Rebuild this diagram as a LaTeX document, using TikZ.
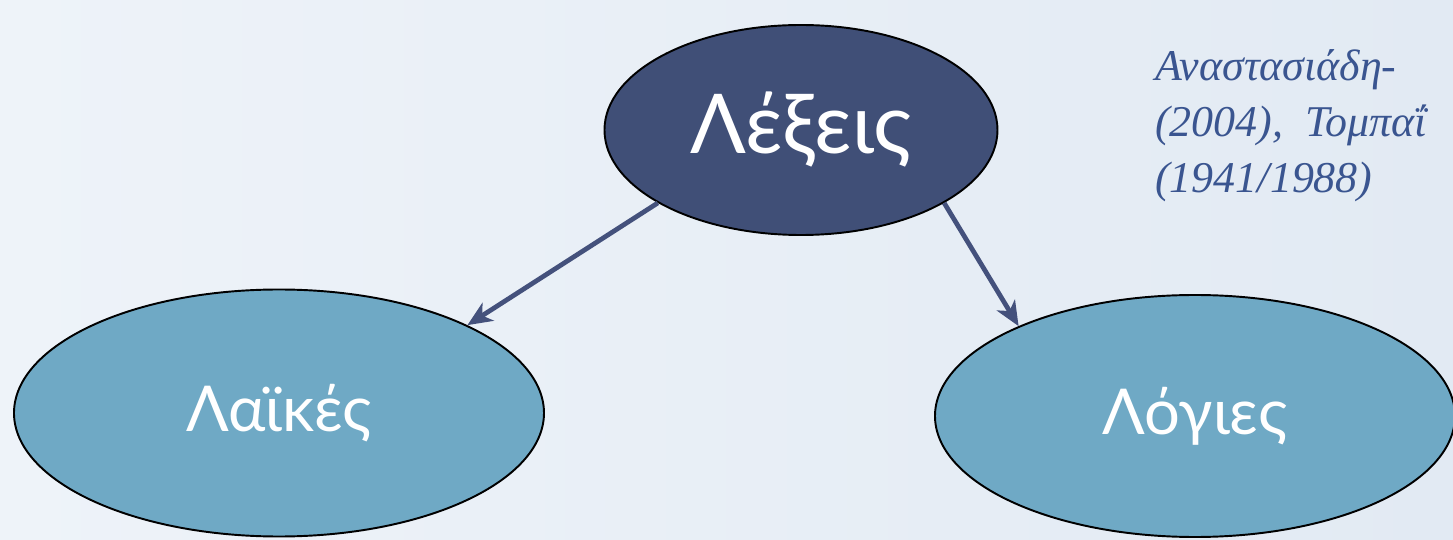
\documentclass[tikz,border=0pt]{standalone}
\usepackage{fontspec}
\newfontfamily\wordfont{Lato}
\newfontfamily\citefont{Liberation Serif}
\usetikzlibrary{shapes,arrows,arrows.meta}
\definecolor{navy}{HTML}{404F77}
\definecolor{sky}{HTML}{6FA9C5}
\definecolor{arrowblue}{HTML}{44517C}
\definecolor{citeblue}{HTML}{3A5590}
\definecolor{bgleft}{HTML}{EEF3F9}
\definecolor{bgright}{HTML}{E2EAF3}
\tikzstyle{word} = [ellipse, draw=black, line width=1.1pt, text=white]
\tikzstyle{arrow} = [line width=2.7pt, ->, >={Stealth[length=14pt, width=12pt, inset=4pt]}, draw=arrowblue]

\begin{document}
\begin{tikzpicture}
        \useasboundingbox (-16.02,2.6) rectangle (13.04,-8.2);
        \clip (-16.02,2.6) rectangle (13.04,-8.2);
        \shade [left color=bgleft, right color=bgright] (-16.02,2.6) rectangle (13.04,-8.2);

        \node (Lexeis) [word, minimum width=7.86cm, minimum height=4.2cm, fill=navy, font=\wordfont\fontsize{47}{50}\selectfont] {Λέξεις};
        \node (Laikes) [word, xshift=-10.44cm, yshift=-5.66cm, minimum width=10.6cm, minimum height=4.94cm, fill=sky, font=\wordfont\fontsize{36}{40}\selectfont] {Λαϊκές};
        \node (Logies) [word, xshift=7.88cm, yshift=-5.72cm, minimum width=10.4cm, minimum height=4.84cm, fill=sky, font=\wordfont\fontsize{36}{40}\selectfont] {Λόγιες};

        \node (Cite) [anchor=north west, inner sep=0pt, xshift=7.08cm, yshift=1.62cm, align=left, text=citeblue, font=\citefont\itshape\fontsize{25}{32}\selectfont] {Αναστασιάδη-\\(2004),~~Τομπαΐ\\(1941/1988)};

        \draw [arrow] (Lexeis.207) -- (Laikes.25);
        \draw [arrow] (Lexeis.333) -- (Logies.153);
\end{tikzpicture}
\end{document}
